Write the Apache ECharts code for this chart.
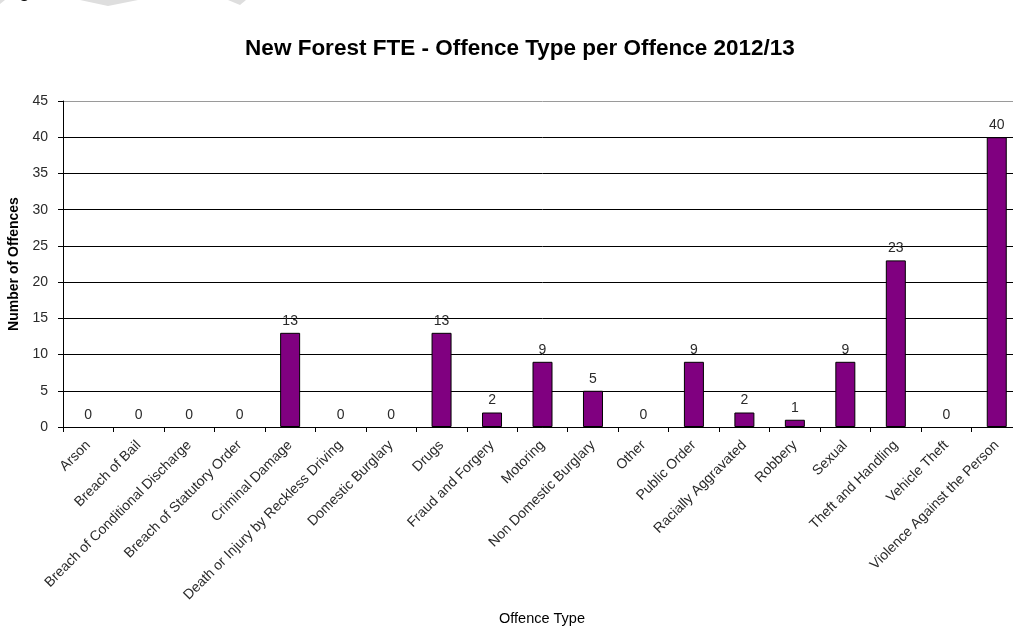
<!DOCTYPE html>
<html>
<head>
<meta charset="utf-8">
<script src="https://cdn.jsdelivr.net/npm/echarts@6/dist/echarts.min.js"></script>
<style>
  html, body { margin: 0; padding: 0; background: #fff; overflow: hidden; }
  #chart { width: 1030px; height: 626px; }
</style>
</head>
<body>
<div id="chart"></div>
<script>
// Offence categories along the x axis
const offenceTypes = [
  'Arson', 'Breach of Bail', 'Breach of Conditional Discharge', 'Breach of Statutory Order',
  'Criminal Damage', 'Death or Injury by Reckless Driving', 'Domestic Burglary', 'Drugs',
  'Fraud and Forgery', 'Motoring', 'Non Domestic Burglary', 'Other', 'Public Order',
  'Racially Aggravated', 'Robbery', 'Sexual', 'Theft and Handling', 'Vehicle Theft',
  'Violence Against the Person'
];

// Number of offences per type, 2012/13
const offenceCounts = [0, 0, 0, 0, 13, 0, 0, 13, 2, 9, 5, 0, 9, 2, 1, 9, 23, 0, 40];

// Value axis range
const yMin = 0;
const yMax = 45;
const yStep = 5;

const fontFamily = '"Liberation Sans", Arial, sans-serif';

const chart = echarts.init(document.getElementById('chart'), null, { renderer: 'canvas' });

// grid lines are black, the top one doubles as the grey plot border
const splitColors = [];
for (let v = yMin; v <= yMax; v += yStep) {
  splitColors.push(v === yMax ? '#9a9a9a' : '#000000');
}

// empty categories keep their value label but draw no outline
const barData = offenceCounts.map(v =>
  v === 0 ? { value: v, itemStyle: { borderWidth: 0 } } : v
);

chart.setOption({
  animation: false,
  backgroundColor: '#ffffff',
  title: {
    text: 'New Forest FTE - Offence Type per Offence 2012/13',
    left: 515,
    top: 32,
    textAlign: 'center',
    textStyle: {
      fontFamily: fontFamily,
      fontSize: 22.5,
      fontWeight: 'bold',
      color: '#000000'
    }
  },
  grid: {
    left: 63,
    top: 101,
    bottom: 199,
    width: 959,
    containLabel: false,
    outerBoundsMode: 'none'
  },
  xAxis: {
    type: 'category',
    data: offenceTypes,
    axisLine: { show: true, lineStyle: { color: '#000000', width: 1 } },
    axisTick: { show: true, alignWithLabel: false, length: 5, lineStyle: { color: '#000000' } },
    axisLabel: {
      interval: 0,
      rotate: 45,
      margin: 16,
      fontFamily: fontFamily,
      fontSize: 14,
      color: '#2a2a2a'
    }
  },
  yAxis: {
    type: 'value',
    min: yMin,
    max: yMax,
    interval: yStep,
    name: 'Number of Offences',
    nameLocation: 'middle',
    nameGap: 40,
    nameTextStyle: {
      fontFamily: fontFamily,
      fontSize: 14,
      fontWeight: 'bold',
      color: '#000000'
    },
    axisLine: { show: true, lineStyle: { color: '#000000', width: 1 } },
    axisTick: { show: true, length: 5, lineStyle: { color: '#000000' } },
    axisLabel: {
      margin: 15,
      fontFamily: fontFamily,
      fontSize: 14,
      color: '#2a2a2a'
    },
    splitLine: { show: true, lineStyle: { color: splitColors, width: 1 } }
  },
  graphic: [
    {
      type: 'text',
      x: 542,
      y: 619,
      style: {
        text: 'Offence Type',
        fontFamily: fontFamily,
        fontSize: 14.5,
        fill: '#000000',
        align: 'center',
        verticalAlign: 'middle'
      }
    },
    // page heading above the chart, mostly cut off by the frame
    {
      type: 'text',
      x: 2,
      y: 1,
      style: {
        text: 'Figure',
        fontFamily: fontFamily,
        fontSize: 20,
        fill: '#000000',
        align: 'left',
        verticalAlign: 'bottom'
      }
    },
    // pale watermark fragments along the top edge
    {
      type: 'polygon',
      shape: { points: [[0, 0], [5, 0], [0, 4]] },
      style: { fill: '#dedede' }
    },
    {
      type: 'polygon',
      shape: { points: [[80, 0], [138, 0], [108, 6]] },
      style: { fill: '#dedede' }
    },
    {
      type: 'polygon',
      shape: { points: [[228, 0], [246, 0], [240, 5]] },
      style: { fill: '#dedede' }
    }
  ],
  series: [
    {
      type: 'bar',
      data: barData,
      barWidth: 20,
      itemStyle: {
        color: '#800080',
        borderColor: '#000000',
        borderWidth: 1
      },
      label: {
        show: true,
        position: 'top',
        distance: 5,
        fontFamily: fontFamily,
        fontSize: 14,
        color: '#2a2a2a'
      }
    }
  ]
});
</script>
</body>
</html>
